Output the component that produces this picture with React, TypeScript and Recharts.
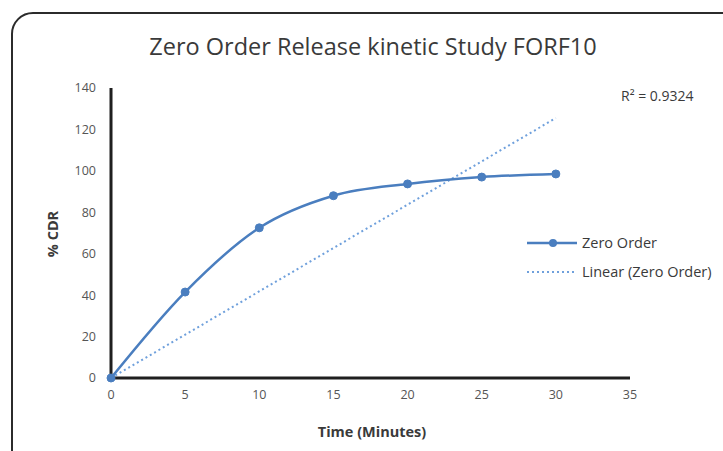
import React from "react";
import {
  ComposedChart,
  Line,
  XAxis,
  YAxis,
} from "recharts";

// % CDR at each time point (minutes)
const times = [0, 5, 10, 15, 20, 25, 30];
const cdr = [0, 41.5, 72.5, 88, 93.7, 97, 98.5];

// Excel linear trendline (intercept 0), endpoints
const trendTimes = [0, 30];
const trendValues = [0, 125.5];

const xTicks = [0, 5, 10, 15, 20, 25, 30, 35];
const yTicks = [0, 20, 40, 60, 80, 100, 120, 140];

const seriesName = "Zero Order";
const trendName = "Linear (Zero Order)";
const rSquared = "R² = 0.9324";

const mainData = times.map((t, i) => ({ x: t, y: cdr[i] }));
const trendData = trendTimes.map((t, i) => ({ x: t, y: trendValues[i] }));

const FONT = "'Open Sans', 'Liberation Sans', sans-serif";
const BLUE = "#4a7ebf";
const LIGHT_BLUE = "#6fa0dc";
const TEXT = "#3a3a3a";

export default function App() {
  return (
    <div
      style={{
        position: "fixed",
        left: 0,
        top: 0,
        width: 723,
        height: 451,
        overflow: "hidden",
        background: "#fff",
        fontFamily: FONT,
      }}
    >
      <div
        style={{
          position: "absolute",
          left: 11,
          top: 12,
          width: 740,
          height: 460,
          border: "2px solid #2b2b2b",
          borderRadius: 22,
        }}
      />
      <div style={{ position: "absolute", left: 0, top: 0 }}>
        <ComposedChart
          width={723}
          height={451}
          margin={{ top: 88, right: 93, bottom: 43, left: 0 }}
        >
          <XAxis
            type="number"
            dataKey="x"
            domain={[0, 35]}
            ticks={xTicks}
            interval={0}
            tickLine={false}
            tickSize={0}
            tickMargin={12}
            height={30}
            axisLine={{ stroke: "#1f1f1f", strokeWidth: 3 }}
            tick={{ fill: "#555", fontSize: 12.5, fontFamily: FONT }}
          />
          <YAxis
            type="number"
            dataKey="y"
            domain={[0, 140]}
            ticks={yTicks}
            interval={0}
            width={111}
            tickLine={false}
            tickSize={0}
            tickMargin={15}
            axisLine={{ stroke: "#1f1f1f", strokeWidth: 3 }}
            tick={{ fill: "#555", fontSize: 12.5, fontFamily: FONT }}
          />
          <Line
            data={trendData}
            dataKey="y"
            name={trendName}
            type="linear"
            stroke={LIGHT_BLUE}
            strokeWidth={2}
            strokeDasharray="2 3"
            dot={false}
            activeDot={false}
            isAnimationActive={false}
          />
          <Line
            data={mainData}
            dataKey="y"
            name={seriesName}
            type="monotone"
            stroke={BLUE}
            strokeWidth={2.5}
            dot={{ r: 4, fill: BLUE, stroke: BLUE, strokeWidth: 1 }}
            activeDot={false}
            isAnimationActive={false}
          />
          <text
            x={373}
            y={55}
            textAnchor="middle"
            fontSize={23.5}
            fill={TEXT}
            fontFamily={FONT}
          >
            Zero Order Release kinetic Study FORF10
          </text>
          <text
            x={372}
            y={437}
            textAnchor="middle"
            fontSize={14.5}
            fontWeight="bold"
            fill={TEXT}
            fontFamily={FONT}
          >
            Time (Minutes)
          </text>
          <text
            x={58}
            y={234}
            textAnchor="middle"
            fontSize={14.5}
            fontWeight="bold"
            fill={TEXT}
            fontFamily={FONT}
            transform="rotate(-90 58 234)"
          >
            % CDR
          </text>
          <text x={621} y={101} fontSize={14} fill={TEXT} fontFamily={FONT}>
            {rSquared}
          </text>
          <line x1={527} y1={243} x2={577} y2={243} stroke={BLUE} strokeWidth={2.5} />
          <circle cx={553} cy={243} r={4} fill={BLUE} />
          <text x={582} y={248} fontSize={14.5} fill={TEXT} fontFamily={FONT}>
            {seriesName}
          </text>
          <line
            x1={527}
            y1={272}
            x2={577}
            y2={272}
            stroke={LIGHT_BLUE}
            strokeWidth={2}
            strokeDasharray="2 3"
          />
          <text x={582} y={277} fontSize={14.5} fill={TEXT} fontFamily={FONT}>
            {trendName}
          </text>
        </ComposedChart>
      </div>
    </div>
  );
}
